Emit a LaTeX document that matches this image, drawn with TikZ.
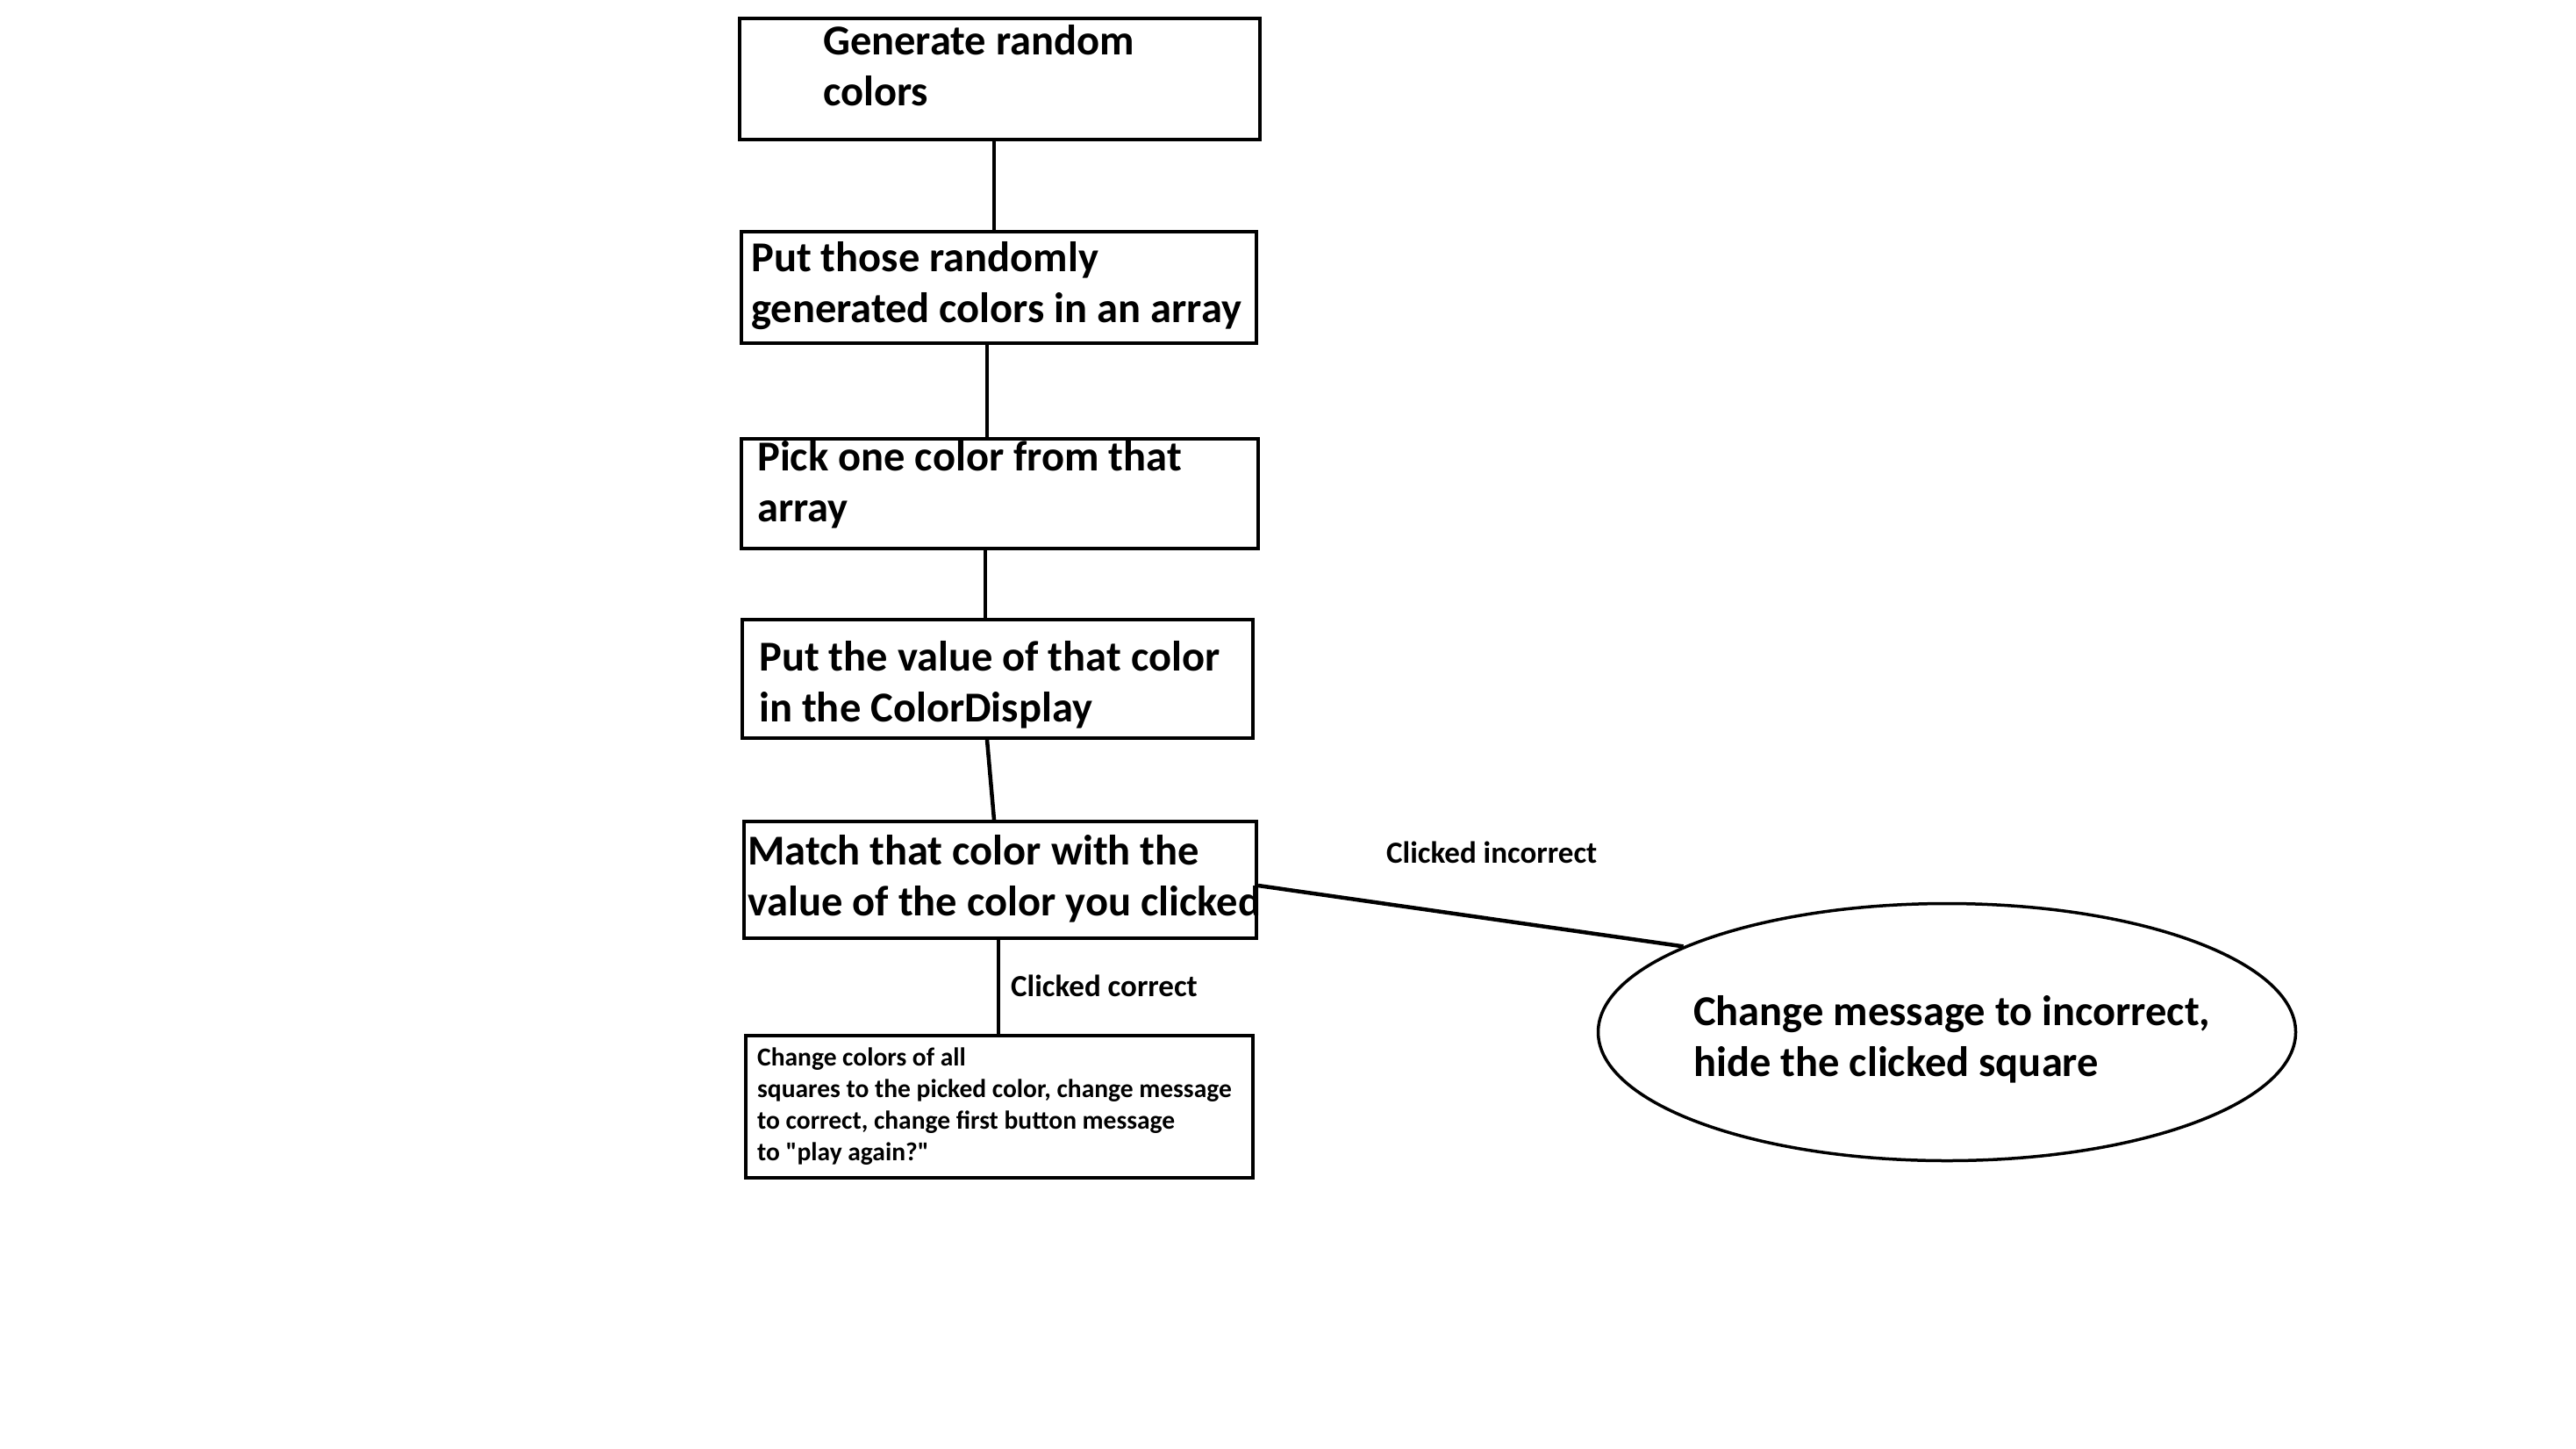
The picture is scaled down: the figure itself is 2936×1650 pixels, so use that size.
\documentclass[tikz,border=0pt]{standalone}
\usepackage{fontspec}
\setmainfont{Carlito}[Ligatures=TeXOff]
\usetikzlibrary{shapes.geometric}
\begin{document}
\begin{tikzpicture}[x=1pt,y=-1pt,
  box/.style={draw, line width=4pt, rectangle, inner sep=0pt},
  oval/.style={draw, line width=3.5pt, ellipse, inner sep=0pt},
  conn/.style={line width=4.5pt},
  big/.style={anchor=base west, inner sep=0pt, font=\bfseries\fontsize{48.5}{58}\selectfont},
  small/.style={anchor=base west, inner sep=0pt, font=\bfseries\fontsize{29.5}{36}\selectfont},
  lab/.style={anchor=base west, inner sep=0pt, font=\bfseries\fontsize{35}{40}\selectfont}]
\useasboundingbox[fill=white] (0,0) rectangle (2936,1650);

% boxes
\node[box, minimum width=593pt, minimum height=138pt] (b1) at (1139.5,90) {};
\node[box, minimum width=587pt, minimum height=127pt] (b2) at (1138.5,327.5) {};
\node[box, minimum width=589pt, minimum height=125pt] (b3) at (1139.5,562.5) {};
\node[box, minimum width=582pt, minimum height=135pt] (b4) at (1137,773.5) {};
\node[box, minimum width=584pt, minimum height=133pt] (b5) at (1140,1002.5) {};
\node[box, minimum width=578pt, minimum height=162pt] (b6) at (1139,1261) {};
\node[oval, minimum width=795pt, minimum height=293pt] (e) at (2219,1176) {};

% texts
\node[big] (t1a) at (938,62) {Generate random};
\node[big] (t1b) at (938,120) {colors};
\node[big] (t2a) at (856,309) {Put those randomly};
\node[big] (t2b) at (856,367) {generated colors in an array};
\node[big] (t3a) at (863,536) {Pick one color from that};
\node[big] (t3b) at (863,594) {array};
\node[big] (t4a) at (865,764) {Put the value of that color};
\node[big] (t4b) at (865,822) {in the ColorDisplay};
\node[big] (t5a) at (852,985) {Match that color with the};
\node[big] (t5b) at (852,1043) {value of the color you clicked};
\node[small] (t6a) at (863,1214) {Change colors of all};
\node[small] (t6b) at (863,1250) {squares to the picked color, change message};
\node[small] (t6c) at (863,1286) {to correct, change first button message};
\node[small] (t6d) at (863,1322) {to "play again?"};
\node[big] (tea) at (1930,1168) {Change message to incorrect,};
\node[big] (teb) at (1930,1226) {hide the clicked square};
\node[lab] (lc) at (1152,1135) {Clicked correct};
\node[lab] (li) at (1580,983) {Clicked incorrect};

% connectors
\draw[conn] ([xshift=-6.5pt]b1.south) -- ([xshift=-5.5pt]b2.north);
\draw[conn] ([xshift=-13.5pt]b2.south) -- ([xshift=-14.5pt]b3.north);
\draw[conn] ([xshift=-16.5pt]b3.south) -- ([xshift=-14pt]b4.north);
\draw[conn] ([xshift=-12pt]b4.south) -- ([xshift=-7pt]b5.north);
\draw[conn] ([xshift=-2pt]b5.south) -- ([xshift=-1pt]b6.north);
\draw[conn] ([yshift=-6.5pt]b5.east) -- (e.162);
\end{tikzpicture}
\end{document}
